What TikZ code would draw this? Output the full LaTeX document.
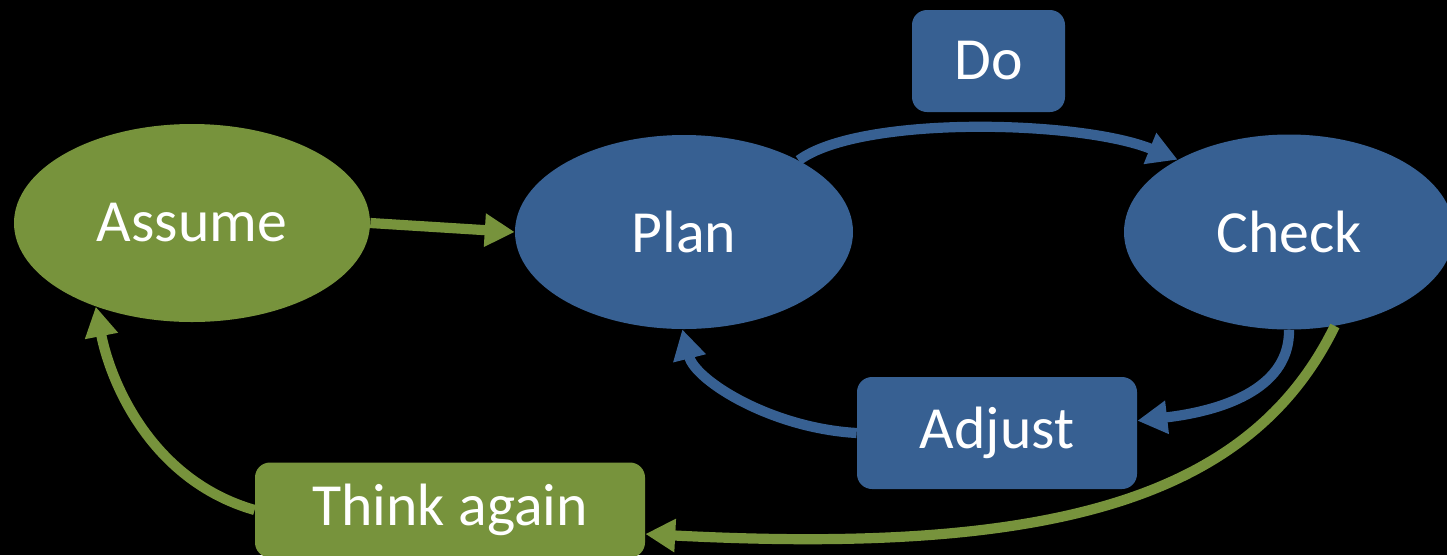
\documentclass[tikz,border=0pt]{standalone}
\usepackage{fontspec}
\setmainfont{Carlito}
\usepackage{xcolor}
\usepackage{tikz}
\usetikzlibrary{shapes.geometric,arrows.meta}
\definecolor{cycleblue}{RGB}{55, 96, 146}
\definecolor{cyclegreen}{RGB}{119, 147, 60}

\begin{document}
\begin{tikzpicture}[
    font=\fontsize{34}{40}\selectfont, text=white,
    oval/.style={ellipse, inner sep=0pt},
    stepbox/.style={rounded corners=0.3cm, inner sep=0pt},
    flow/.style={line width=5.8pt, -{Triangle[length=17pt,width=18pt]}}
]
    % Background and page size
    \fill[black] (0,0) rectangle (28.94,-11.1);
    \useasboundingbox (0,0) rectangle (28.94,-11.1);

    % Outer loop
    \node[oval, fill=cyclegreen, minimum width=7.12cm, minimum height=3.96cm] (assume) at (3.84,-4.46) {Assume};
    \node[stepbox, fill=cyclegreen, minimum width=7.8cm, minimum height=1.9cm] (think) at (9.0,-10.2) {Think again};

    % Inner loop
    \node[oval, fill=cycleblue, minimum width=6.76cm, minimum height=3.88cm] (plan) at (13.68,-4.64) {Plan};
    \node[oval, fill=cycleblue, minimum width=6.6cm, minimum height=3.9cm] (check) at (25.78,-4.64) {Check};
    \node[stepbox, fill=cycleblue, minimum width=3.06cm, minimum height=2.04cm] (do) at (19.77,-1.22) {Do};
    \node[stepbox, fill=cycleblue, minimum width=5.6cm, minimum height=2.24cm] (adjust) at (19.94,-8.66) {Adjust};

    % Blue arrows
    \draw[flow, cycleblue] (plan.32) .. controls (17.2,-2.3) and (21.6,-2.4) .. (check.147);
    \draw[flow, cycleblue] (check.-90) .. controls (25.8,-7.7) and (24.6,-8.2) .. (adjust.5);
    \draw[flow, cycleblue] (adjust.west) .. controls (15.4,-8.56) and (13.9,-7.6) .. (plan.-91);

    % Green arrows
    \draw[flow, cyclegreen] (assume.east) -- (plan.west);
    \draw[flow, cyclegreen] (check.-64) .. controls (25.0,-10.0) and (21.0,-11.1) .. (think.-7);
    \draw[flow, cyclegreen] (think.west) .. controls (3.0,-9.6) and (2.2,-7.6) .. (assume.221);
\end{tikzpicture}
\end{document}
